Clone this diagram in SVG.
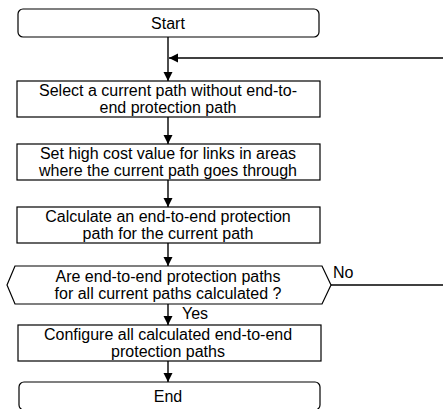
<svg xmlns="http://www.w3.org/2000/svg" width="443" height="409" viewBox="0 0 443 409">
<style>
.box{fill:#fff;stroke:#000;stroke-width:1.2}
.t{font-family:"Liberation Sans",Arial,sans-serif;font-size:16px;fill:#000;text-anchor:middle}
.l{font-family:"Liberation Sans",Arial,sans-serif;font-size:16px;fill:#000}
.c{fill:none;stroke:#000;stroke-width:1.4}
</style>
<defs>
<marker id="ah" markerWidth="10" markerHeight="10" refX="9" refY="4.5" orient="auto" markerUnits="userSpaceOnUse">
<path d="M0,0 L9,4.5 L0,9 Z" fill="#000"/>
</marker>
</defs>
<g id="connectors">
<line class="c" x1="168" y1="37" x2="168" y2="81" marker-end="url(#ah)"/>
<line class="c" x1="443" y1="58" x2="169" y2="58" marker-end="url(#ah)"/>
<line class="c" x1="168" y1="117" x2="168" y2="144" marker-end="url(#ah)"/>
<line class="c" x1="168" y1="180" x2="168" y2="207" marker-end="url(#ah)"/>
<line class="c" x1="168" y1="243" x2="168" y2="266" marker-end="url(#ah)"/>
<line class="c" x1="168" y1="304" x2="168" y2="325" marker-end="url(#ah)"/>
<line class="c" x1="168" y1="361" x2="168" y2="382" marker-end="url(#ah)"/>
<line class="c" x1="331" y1="285" x2="443" y2="285"/>
<text class="l" x="333" y="278">No</text>
<text class="l" x="182" y="319">Yes</text>
</g>
<g id="start">
<rect class="box" x="18" y="9" width="301" height="28" rx="5"/>
<text class="t" x="168" y="29">Start</text>
</g>
<g id="select">
<rect class="box" x="17" y="81" width="303" height="36"/>
<text class="t" x="168" y="96">Select a current path without end-to-</text>
<text class="t" x="168" y="113">end protection path</text>
</g>
<g id="setcost">
<rect class="box" x="17" y="144" width="303" height="36"/>
<text class="t" x="168" y="159">Set high cost value for links in areas</text>
<text class="t" x="168" y="176">where the current path goes through</text>
</g>
<g id="calc">
<rect class="box" x="17" y="207" width="303" height="36"/>
<text class="t" x="168" y="222">Calculate an end-to-end protection</text>
<text class="t" x="168" y="239">path for the current path</text>
</g>
<g id="decision">
<polygon class="box" points="15,266 322,266 331,285 322,304 15,304 7,285"/>
<text class="t" x="168" y="282">Are end-to-end protection paths</text>
<text class="t" x="168" y="299">for all current paths calculated ?</text>
</g>
<g id="configure">
<rect class="box" x="18" y="325" width="303" height="36"/>
<text class="t" x="168" y="340">Configure all calculated end-to-end</text>
<text class="t" x="168" y="357">protection paths</text>
</g>
<g id="end">
<rect class="box" x="19" y="382" width="301" height="28" rx="5"/>
<text class="t" x="168" y="402">End</text>
</g>
</svg>
